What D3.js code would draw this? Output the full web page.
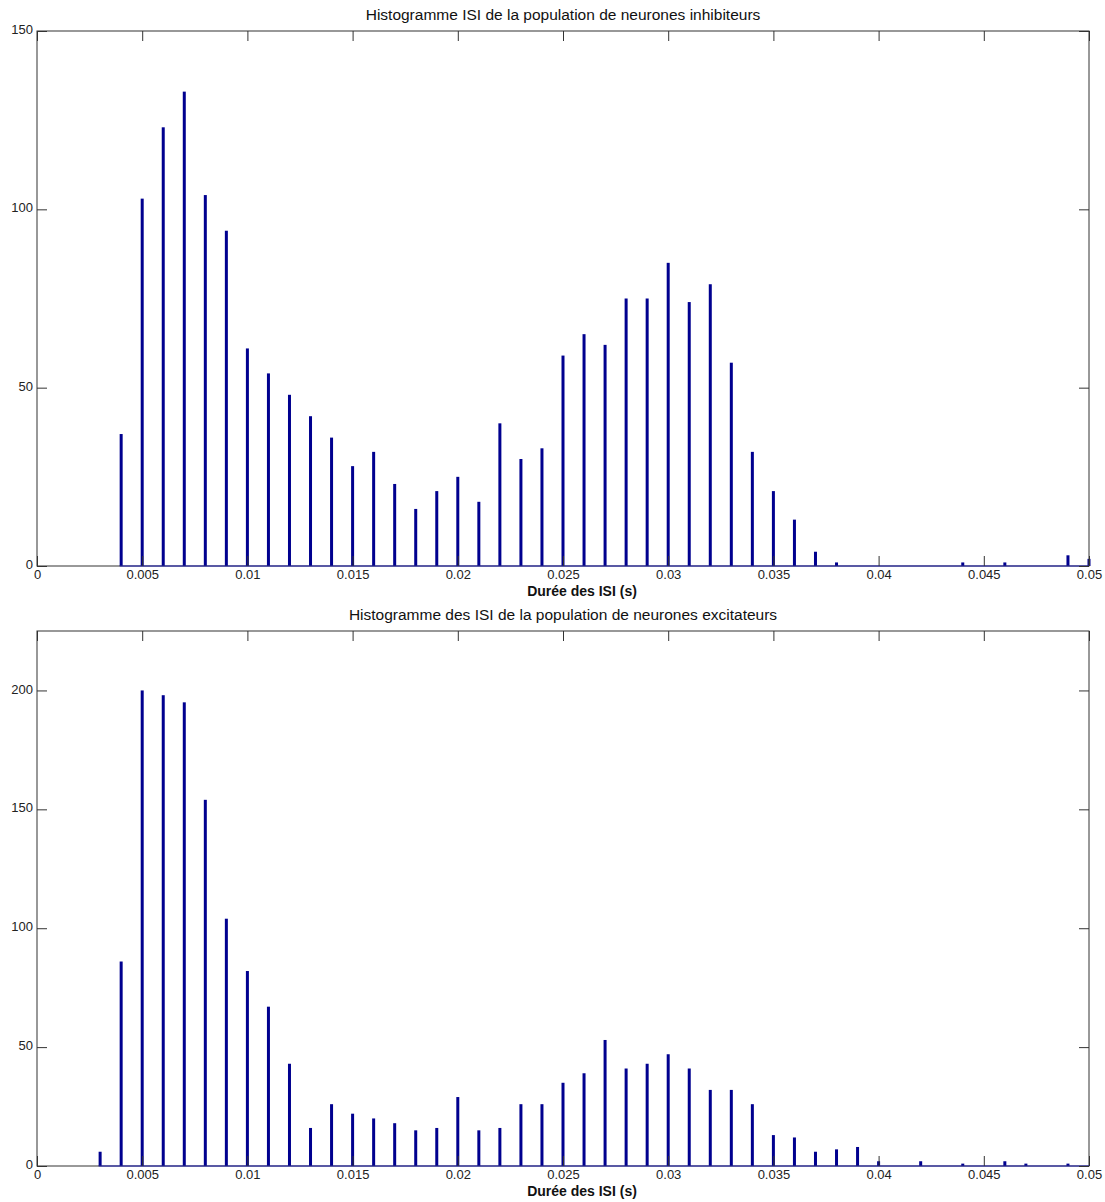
<!DOCTYPE html>
<html>
<head>
<meta charset="utf-8">
<script src="https://cdn.jsdelivr.net/npm/d3@7"></script>
<style>
  html, body { margin: 0; padding: 0; background: #fff; }
  svg { display: block; font-family: "Liberation Sans", Arial, Helvetica, sans-serif; }
</style>
</head>
<body>
<svg id="chart" width="1105" height="1202"></svg>
<script>
// ---- Data ----
const binCenters = d3.range(1, 51).map(k => k / 1000);   // 0.001 .. 0.050 s
const inhibCounts = [0, 0, 0, 37, 103, 123, 133, 104, 94, 61,
                     54, 48, 42, 36, 28, 32, 23, 16, 21, 25,
                     18, 40, 30, 33, 59, 65, 62, 75, 75, 85,
                     74, 79, 57, 32, 21, 13, 4, 1, 0, 0,
                     0, 0, 0, 1, 0, 1, 0, 0, 3, 2];
const excitCounts = [0, 0, 6, 86, 200, 198, 195, 154, 104, 82,
                     67, 43, 16, 26, 22, 20, 18, 15, 16, 29,
                     15, 16, 26, 26, 35, 39, 53, 41, 43, 47,
                     41, 32, 32, 26, 13, 12, 6, 7, 8, 2,
                     0, 2, 0, 1, 0, 2, 1, 0, 1, 0];
const xTicks = [0, 0.005, 0.01, 0.015, 0.02, 0.025, 0.03, 0.035, 0.04, 0.045, 0.05];
const xTickLabels = ["0", "0.005", "0.01", "0.015", "0.02", "0.025", "0.03", "0.035", "0.04", "0.045", "0.05"];
const inhibYTicks = [0, 50, 100, 150];
const excitYTicks = [0, 50, 100, 150, 200];
const titles = ["Histogramme ISI de la population de neurones inhibiteurs",
                "Histogramme des ISI de la population de neurones excitateurs"];
const xLabel = "Durée des ISI (s)";

// ---- Drawing ----
const svg = d3.select("#chart");
const barColor = "#00008f";
const axisColor = "#333";

function panel(cfg) {
  const x = d3.scaleLinear().domain([0, 0.05]).range([37, 1089]);
  const y = d3.scaleLinear().domain([0, cfg.ymax]).range([cfg.bottom, cfg.top]);
  const g = svg.append("g");

  // bars
  const data = binCenters.map((c, i) => ({ c, v: cfg.counts[i] }));
  g.append("g").selectAll("rect")
    .data(data.filter(d => d.v > 0))
    .join("rect")
    .attr("x", d => x(d.c) - 1.5)
    .attr("width", 3)
    .attr("y", d => y(d.v))
    .attr("height", d => y(0) - y(d.v))
    .attr("fill", barColor);

  // frame
  g.append("rect")
    .attr("x", x(0)).attr("y", y(cfg.ymax))
    .attr("width", x(0.05) - x(0)).attr("height", y(0) - y(cfg.ymax))
    .attr("fill", "none").attr("stroke", axisColor).attr("stroke-width", 1);

  // baseline of the histogram patches
  const firstIdx = cfg.counts.findIndex(v => v > 0);
  g.append("line")
    .attr("x1", x(binCenters[firstIdx]) - 1.5).attr("x2", x(0.05))
    .attr("y1", y(0)).attr("y2", y(0))
    .attr("stroke", "#1a1ab0").attr("stroke-width", 1.2);

  const fmt = d => xTickLabels[xTicks.indexOf(d)];
  // bottom axis
  const ax = g.append("g").attr("transform", `translate(0,${y(0)})`)
    .call(d3.axisBottom(x).tickValues(xTicks).tickFormat(fmt).tickSizeInner(-10).tickSizeOuter(0).tickPadding(4));
  // top axis (ticks only)
  const axT = g.append("g").attr("transform", `translate(0,${y(cfg.ymax)})`)
    .call(d3.axisTop(x).tickValues(xTicks).tickFormat("").tickSizeInner(-10).tickSizeOuter(0));
  // left axis
  const ay = g.append("g").attr("transform", `translate(${x(0)},0)`)
    .call(d3.axisLeft(y).tickValues(cfg.yticks).tickFormat(d3.format("d")).tickSizeInner(-10).tickSizeOuter(0).tickPadding(4));
  // right axis
  const ayR = g.append("g").attr("transform", `translate(${x(0.05)},0)`)
    .call(d3.axisRight(y).tickValues(cfg.yticks).tickFormat("").tickSizeInner(-10).tickSizeOuter(0));

  [ax, axT, ay, ayR].forEach(a => {
    a.select(".domain").remove();
    a.selectAll("line").attr("stroke", axisColor);
    a.selectAll("text").attr("fill", "#222").style("font-size", "13px")
      .style("font-family", "'Liberation Sans', Arial, sans-serif");
  });
  ax.selectAll("text").attr("dy", "0.71em");
  ay.selectAll("text").attr("dy", "0.2em");

  // title
  g.append("text")
    .attr("x", (x(0) + x(0.05)) / 2).attr("y", cfg.top - 11)
    .attr("text-anchor", "middle")
    .attr("fill", "#111")
    .style("font-size", "15.5px")
    .text(cfg.title);

  // x label
  g.append("text")
    .attr("x", (x(0) + x(0.05)) / 2 + 19).attr("y", y(0) + 30)
    .attr("text-anchor", "middle")
    .attr("fill", "#111")
    .style("font-size", "14px").style("font-weight", "bold")
    .text(xLabel);
}

panel({ counts: inhibCounts, ymax: 150, top: 31, bottom: 566, yticks: inhibYTicks, title: titles[0] });
panel({ counts: excitCounts, ymax: 225, top: 631, bottom: 1166, yticks: excitYTicks, title: titles[1] });
</script>
</body>
</html>
